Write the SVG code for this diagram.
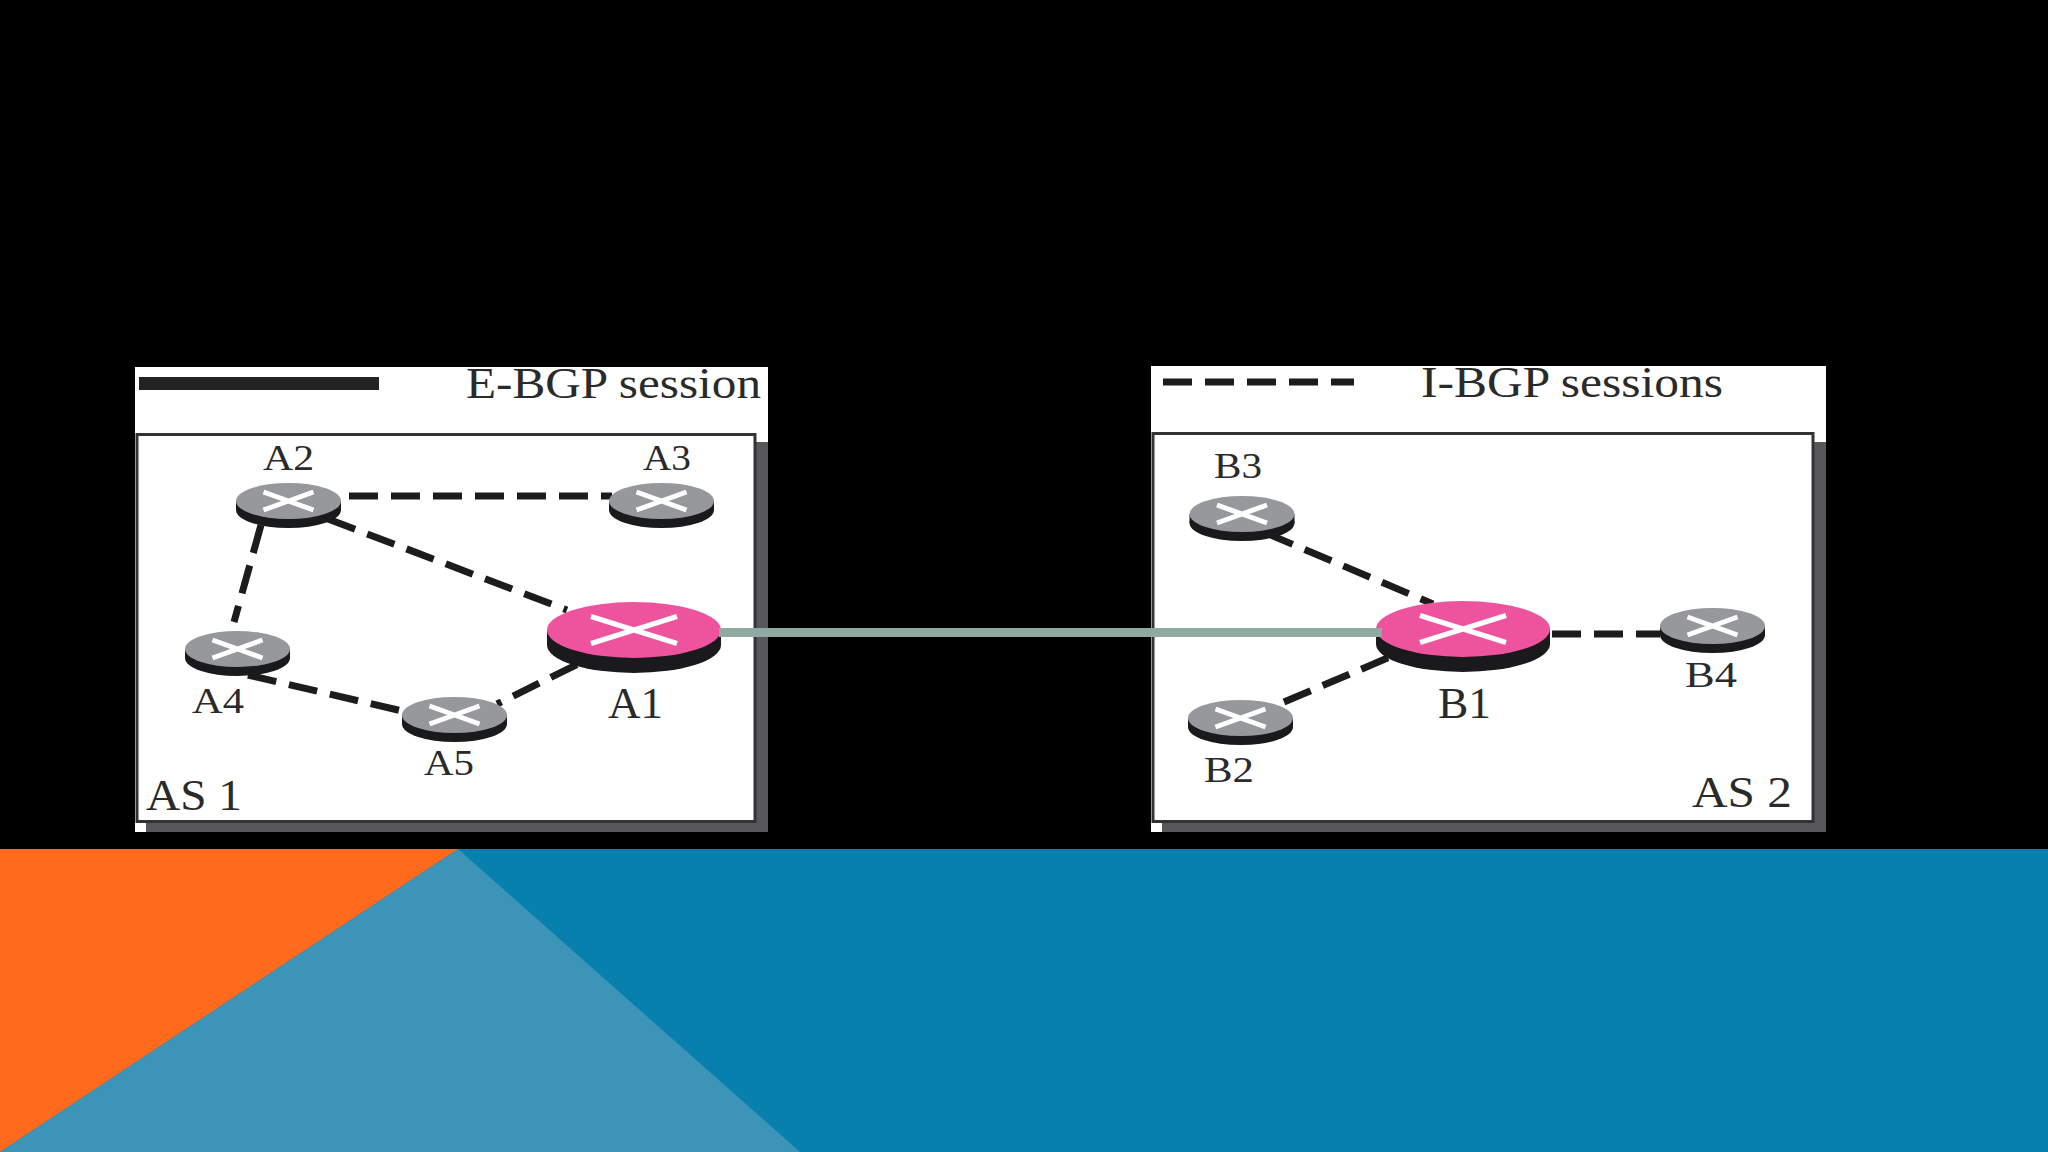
<svg xmlns="http://www.w3.org/2000/svg" width="2048" height="1152" viewBox="0 0 2048 1152">
<defs>
<style>
.panel{fill:#fff}
.shadow{fill:#58585a}
.box{fill:#fff;stroke:#333335;stroke-width:3}
.t{font-family:"Liberation Serif","Times New Roman",serif;fill:#2a2a2a}
.small{font-size:36px}
.mid{font-size:44px}
.big{font-size:45px}
.dash{fill:none;stroke:#1c1c1c;stroke-width:7;stroke-dasharray:29 13}
.x{fill:none;stroke:#fff;stroke-width:5}
.base{fill:#1a1a1c}
.grey{fill:#97989b}
.pink{fill:#ee549d}
</style>
<g id="r-small">
<ellipse class="base" cx="0" cy="9" rx="52.5" ry="18"/>
<rect class="base" x="-52.5" y="0" width="105" height="9"/>
<ellipse class="grey" cx="0" cy="0" rx="52.5" ry="18"/>
<path class="x" d="M-25-9L25 9M-25 9L25-9"/>
</g>
<g id="r-big">
<ellipse class="base" cx="0" cy="15" rx="87" ry="28"/>
<rect class="base" x="-87" y="0" width="174" height="15"/>
<ellipse class="pink" cx="0" cy="0" rx="87" ry="28"/>
<path class="x" d="M-43-13.500L43 13.500M-43 13.500L43-13.500"/>
</g>
</defs>
<rect id="background" width="2048" height="1152" fill="#000"/>
<g id="footer">
<rect y="849" width="2048" height="303" fill="#0780ae"/>
<polygon points="0,849 458,849 0,1152" fill="#ff6a1c"/>
<polygon points="458,849 800,1152 0,1152" fill="#3c94b8"/>
</g>
<g id="panel-as1">
<rect class="panel" x="135" y="367" width="633" height="465"/>
<rect class="shadow" x="756" y="442" width="12" height="390"/>
<rect class="shadow" x="146" y="822" width="622" height="10"/>
<rect class="box" x="137" y="434.500" width="618" height="387"/>
<rect x="139" y="377" width="240" height="13" fill="#222"/>
<text class="t big" x="466" y="398" textLength="295" lengthAdjust="spacingAndGlyphs">E-BGP session</text>
<text class="t big" x="146" y="810" textLength="96" lengthAdjust="spacingAndGlyphs">AS 1</text>
</g>
<g id="panel-as2">
<rect class="panel" x="1151" y="366" width="675" height="466"/>
<rect class="shadow" x="1813" y="442" width="13" height="390"/>
<rect class="shadow" x="1162" y="822" width="664" height="10"/>
<rect class="box" x="1153" y="433.500" width="660" height="388"/>
<path class="dash" d="M1163 382H1354"/>
<text class="t big" x="1421" y="397" textLength="302" lengthAdjust="spacingAndGlyphs">I-BGP sessions</text>
<text class="t big" x="1692" y="807" textLength="100" lengthAdjust="spacingAndGlyphs">AS 2</text>
</g>
<g id="connectors">
<path class="dash" d="M349 496H612"/>
<path class="dash" d="M328 519L567 610"/>
<path class="dash" d="M261 525L234 622"/>
<path class="dash" d="M248 675L402 711"/>
<path class="dash" d="M497 704L578 664" stroke-dashoffset="24"/>
<path class="dash" d="M1266 533L1433 604"/>
<path class="dash" d="M1284 702L1390 657"/>
<path class="dash" d="M1552 634H1660"/>
</g>
<g id="A2"><use href="#r-small" x="288.500" y="501"/><text class="t small" x="263" y="470" textLength="51" lengthAdjust="spacingAndGlyphs">A2</text></g>
<g id="A3"><use href="#r-small" x="661.500" y="501"/><text class="t small" x="643" y="470" textLength="48" lengthAdjust="spacingAndGlyphs">A3</text></g>
<g id="A4"><use href="#r-small" x="237.500" y="649"/><text class="t small" x="192" y="713" textLength="52" lengthAdjust="spacingAndGlyphs">A4</text></g>
<g id="A5"><use href="#r-small" x="454.500" y="715"/><text class="t small" x="424" y="775" textLength="50" lengthAdjust="spacingAndGlyphs">A5</text></g>
<g id="A1"><use href="#r-big" x="634" y="630"/><text class="t mid" x="608" y="718" textLength="55" lengthAdjust="spacingAndGlyphs">A1</text></g>
<g id="B3"><use href="#r-small" x="1242" y="514"/><text class="t small" x="1214" y="478" textLength="48" lengthAdjust="spacingAndGlyphs">B3</text></g>
<g id="B2"><use href="#r-small" x="1240.500" y="718"/><text class="t small" x="1204" y="782" textLength="50" lengthAdjust="spacingAndGlyphs">B2</text></g>
<g id="B4"><use href="#r-small" x="1712.500" y="626"/><text class="t small" x="1685" y="687" textLength="52" lengthAdjust="spacingAndGlyphs">B4</text></g>
<g id="B1"><use href="#r-big" x="1463" y="629"/><text class="t mid" x="1438" y="718" textLength="53" lengthAdjust="spacingAndGlyphs">B1</text></g>
<g id="link">
<rect x="719" y="628" width="663" height="9" fill="#8fa9a3"/>
</g>
</svg>
